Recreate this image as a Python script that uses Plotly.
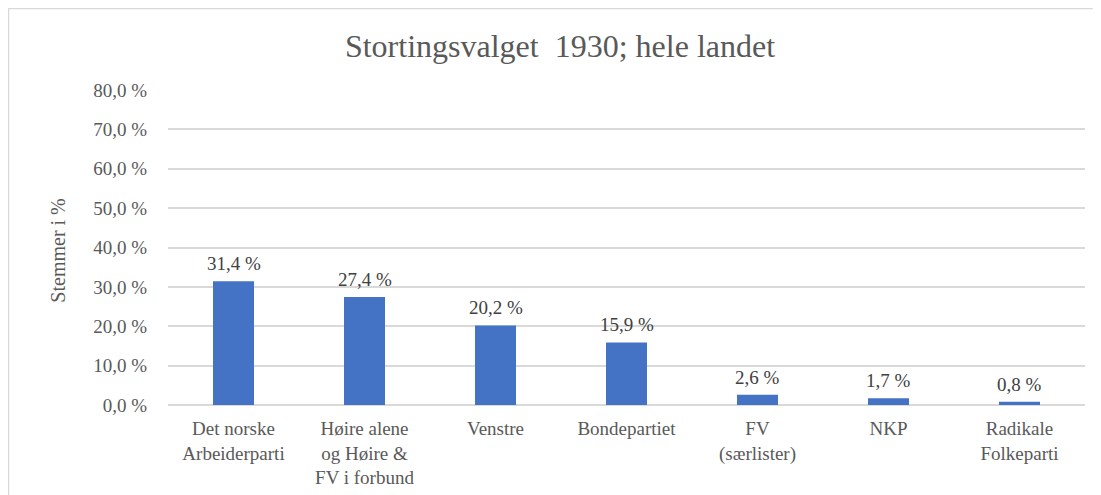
import plotly.graph_objects as go

categories = [
    "Det norske<br>Arbeiderparti",
    "Høire alene<br>og Høire &<br>FV i forbund",
    "Venstre",
    "Bondepartiet",
    "FV<br>(særlister)",
    "NKP",
    "Radikale<br>Folkeparti",
]
values = [31.4, 27.4, 20.2, 15.9, 2.6, 1.7, 0.8]
tick_vals = [0, 10, 20, 30, 40, 50, 60, 70, 80]
tick_text = [f"{v:.1f} %".replace(".", ",") for v in tick_vals]
labels = [f"{v:.1f} %".replace(".", ",") for v in values]

FONT = "Liberation Serif, Times New Roman, serif"
GREY = "#595959"

# page has an 8px body margin; figure starts at page (8, 8)
W, H = 1093, 487
L, R, T, B = 160, 16, 82, 90
plot_w = W - L - R
plot_h = H - T - B

fig = go.Figure(
    go.Bar(
        x=categories,
        y=values,
        marker=dict(color="#4472C4", line=dict(width=0)),
        hoverinfo="x+y",
    )
)

for c, v, t in zip(categories, values, labels):
    fig.add_annotation(
        x=c, y=v, xref="x", yref="y",
        text=t, showarrow=False,
        yanchor="bottom", yshift=5,
        font=dict(family=FONT, size=19, color="#404040"),
    )

fig.add_annotation(
    x=(58 - 168) / plot_w, y=0.49, xref="paper", yref="paper",
    text="Stemmer i %", textangle=-90, showarrow=False,
    xanchor="center", yanchor="middle",
    font=dict(family=FONT, size=20, color=GREY),
)

fig.update_layout(
    width=W,
    height=H,
    paper_bgcolor="white",
    plot_bgcolor="white",
    margin=dict(l=L, r=R, t=T, b=B, autoexpand=False),
    bargap=0.687,
    showlegend=False,
    title=dict(
        text="Stortingsvalget  1930; hele landet",
        x=(560 - 8) / W,
        xref="container",
        y=1 - 38 / H,
        yref="container",
        xanchor="center",
        yanchor="middle",
        font=dict(family=FONT, size=32, color=GREY),
    ),
    font=dict(family=FONT, size=19, color=GREY),
)

fig.update_xaxes(
    showgrid=False,
    showline=False,
    ticks="",
    ticklabelstandoff=10,
    tickfont=dict(family=FONT, size=19, color=GREY),
)
fig.update_yaxes(
    range=[0, 80],
    tickvals=tick_vals,
    ticktext=tick_text,
    showgrid=True,
    gridcolor="#D9D9D9",
    gridwidth=1.5,
    zeroline=True,
    zerolinecolor="#D9D9D9",
    zerolinewidth=1.5,
    showline=False,
    ticks="",
    ticklabelstandoff=20,
    tickfont=dict(family=FONT, size=19, color=GREY),
)

fig.add_shape(
    type="rect",
    xref="paper",
    yref="paper",
    x0=(-L + 0.5) / plot_w,
    x1=(W + 40 - L) / plot_w,
    y0=-(B + 40) / plot_h,
    y1=(plot_h + T - 0.5) / plot_h,
    line=dict(color="#D9D9D9", width=1.5),
    fillcolor="rgba(0,0,0,0)",
    layer="below",
)

fig.write_html("out.html")
